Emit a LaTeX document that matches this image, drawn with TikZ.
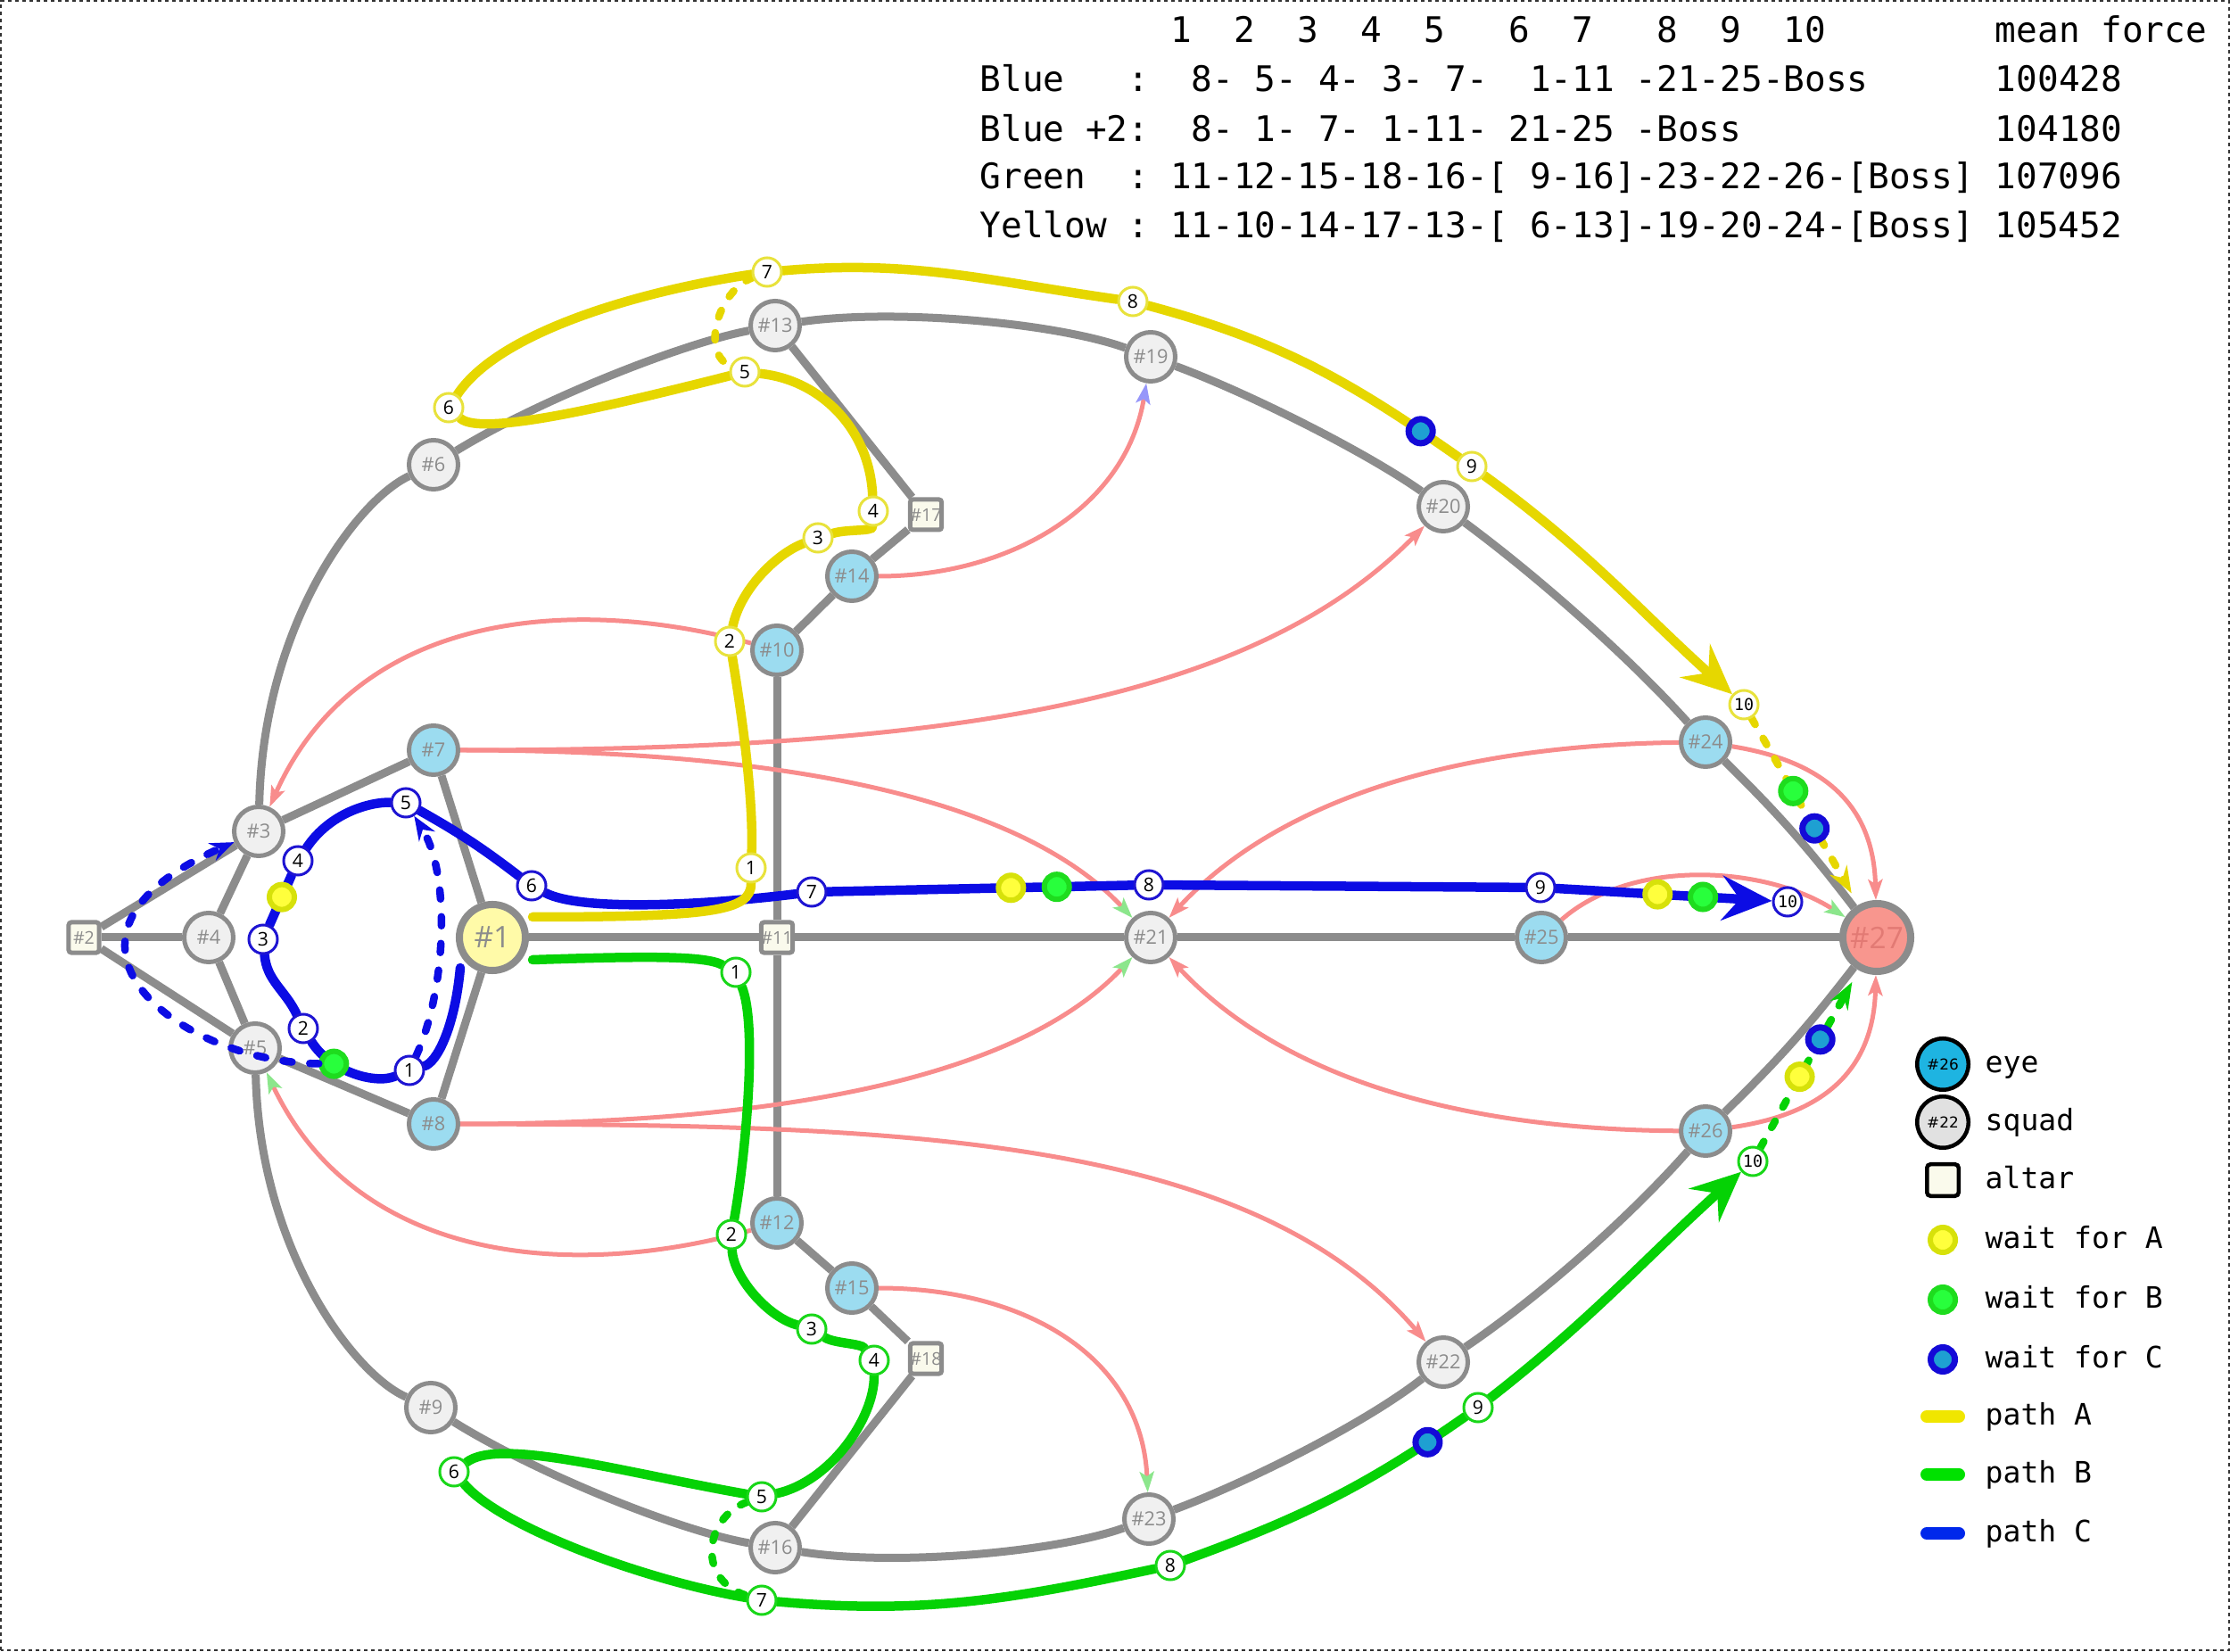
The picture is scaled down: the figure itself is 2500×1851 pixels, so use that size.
\documentclass[tikz,border=0pt]{standalone}
\usepackage{fontspec}
\setmainfont{Open Sans}
\newfontfamily\monofont{DejaVu Sans Mono}
\newfontfamily\labfont{Open Sans}
\newfontfamily\legfont{DejaVu Sans}
\usetikzlibrary{arrows.meta}
\pgfdeclarelayer{bg}
\pgfdeclarelayer{mid}
\pgfdeclarelayer{top}
\pgfsetlayers{bg,mid,main,top}

\definecolor{edgegrey}{RGB}{140,140,140}
\definecolor{squadfill}{RGB}{240,240,240}
\definecolor{eyefill}{RGB}{156,220,240}
\definecolor{bossfill}{RGB}{248,150,142}
\definecolor{bosstext}{RGB}{226,122,116}
\definecolor{startfill}{RGB}{255,250,168}
\definecolor{altarfill}{RGB}{250,250,236}
\definecolor{labgrey}{RGB}{140,140,140}
\definecolor{colA}{RGB}{230,215,0}
\definecolor{colB}{RGB}{5,210,5}
\definecolor{colC}{RGB}{12,12,228}
\definecolor{mkAcol}{RGB}{232,226,60}
\definecolor{mkBcol}{RGB}{25,215,25}
\definecolor{mkCcol}{RGB}{30,20,210}
\definecolor{pinkline}{RGB}{248,140,140}
\definecolor{greenhead}{RGB}{140,230,140}
\definecolor{lavhead}{RGB}{150,150,250}
\definecolor{waitAring}{RGB}{215,225,10}
\definecolor{waitAin}{RGB}{255,255,60}
\definecolor{waitBring}{RGB}{30,220,30}
\definecolor{waitBin}{RGB}{40,255,60}
\definecolor{waitCring}{RGB}{20,10,215}
\definecolor{waitCin}{RGB}{30,160,210}
\definecolor{legeye}{RGB}{30,180,225}
\definecolor{legsquad}{RGB}{225,225,225}
\definecolor{legA}{RGB}{240,230,0}
\definecolor{legB}{RGB}{0,225,0}
\definecolor{legC}{RGB}{0,40,235}

\tikzset{
 squad/.style={circle, draw=edgegrey, fill=squadfill, line width=0.05cm, minimum size=0.55cm, inner sep=0pt, text=labgrey, font=\labfont\fontsize{6.2}{7}\selectfont},
 eye/.style={squad, fill=eyefill},
 altar/.style={rectangle, rounded corners=0.03cm, draw=edgegrey, fill=altarfill, line width=0.05cm, minimum size=0.34cm, inner sep=0pt, text=labgrey, font=\labfont\fontsize{5.6}{6}\selectfont},
 startnode/.style={squad, fill=startfill, line width=0.08cm, minimum size=0.74cm, font=\labfont\fontsize{9.5}{10}\selectfont},
 bossnode/.style={squad, fill=bossfill, text=bosstext, line width=0.08cm, minimum size=0.76cm, font=\labfont\fontsize{9.5}{10}\selectfont},
 road/.style={draw=edgegrey, line width=0.09cm},
 hint/.style={draw=pinkline, line width=0.05cm, -{Stealth[length=0.23cm,width=0.16cm,inset=0.05cm]}},
 hintG/.style={draw=pinkline, line width=0.05cm, -{Stealth[length=0.23cm,width=0.16cm,inset=0.05cm,color=greenhead]}},
 hintL/.style={draw=pinkline, line width=0.05cm, -{Stealth[length=0.23cm,width=0.16cm,inset=0.05cm,color=lavhead]}},
 mk/.style={circle, fill=white, solid, line width=0.03cm, minimum size=0.32cm, inner sep=0pt, text=black, font=\labfont\fontsize{6}{6}\selectfont},
 markA/.style={mk, draw=mkAcol},
 markB/.style={mk, draw=mkBcol},
 markC/.style={mk, draw=mkCcol},
 tenfont/.style={font=\monofont\fontsize{5.2}{5}\selectfont},
 waitdot/.style={circle, solid, line width=0.06cm, minimum size=0.28cm, inner sep=0pt},
 waitA/.style={waitdot, draw=waitAring, fill=waitAin},
 waitB/.style={waitdot, draw=waitBring, fill=waitBin},
 waitC/.style={waitdot, draw=waitCring, fill=waitCin, line width=0.07cm, minimum size=0.27cm},
 pA/.style={draw=colA, line width=0.105cm, line cap=round},
 pB/.style={draw=colB, line width=0.105cm, line cap=round},
 pC/.style={draw=colC, line width=0.105cm, line cap=round},
 pAd/.style={pA, line width=0.085cm, dash pattern=on 0.08cm off 0.18cm},
 pBd/.style={pB, line width=0.085cm, dash pattern=on 0.08cm off 0.18cm},
 pCd/.style={pC, line width=0.085cm, dash pattern=on 0.1cm off 0.2cm},
 bigtip/.style={-{Stealth[length=0.56cm,width=0.5cm,inset=0.2cm]}},
 dtip/.style={-{Stealth[length=0.3cm,width=0.22cm,inset=0.1cm]}},
 ctip/.style={-{Stealth[length=0.27cm,width=0.21cm,inset=0.09cm]}},
 hdr/.style={anchor=base west, inner sep=0pt, font=\monofont\fontsize{11.2}{13}\selectfont},
 legtext/.style={anchor=mid west, inner sep=0pt, font=\monofont\fontsize{9.4}{11}\selectfont},
}

\begin{document}
\begin{tikzpicture}[x=0.01cm,y=0.01cm]
\useasboundingbox (0,0) rectangle (2500,1851);
\draw[black!80, line width=0.02cm, dash pattern=on 0.04cm off 0.04cm] (1,1) rectangle (2499,1850);

% ---------- header ----------
\node[hdr] (h0) at (1098,1803) {~~~~~~~~~1~~2~~3~~4~~5~~~6~~7~~~8~~9~~10~~~~~~~~mean~force};
\node[hdr] (h1) at (1098,1748) {Blue~~~:~~8-~5-~4-~3-~7-~~1-11~-21-25-Boss~~~~~~100428};
\node[hdr] (h2) at (1098,1692) {Blue~+2:~~8-~1-~7-~1-11-~21-25~-Boss~~~~~~~~~~~~104180};
\node[hdr] (h3) at (1098,1639) {Green~~:~11-12-15-18-16-[~9-16]-23-22-26-[Boss]~107096};
\node[hdr] (h4) at (1098,1584) {Yellow~:~11-10-14-17-13-[~6-13]-19-20-24-[Boss]~105452};

% ---------- map nodes ----------
\node[startnode] (n1) at (552,800) {\#1};
\node[altar] (n2) at (94,800) {\#2};
\node[squad] (n3) at (290,919) {\#3};
\node[squad] (n4) at (234,800) {\#4};
\node[squad] (n5) at (286,676) {\#5};
\node[squad] (n6) at (486,1330) {\#6};
\node[eye] (n7) at (486,1010) {\#7};
\node[eye] (n8) at (486,591) {\#8};
\node[squad] (n9) at (483,273) {\#9};
\node[eye] (n10) at (871,1122) {\#10};
\node[altar] (n11) at (871,800) {\#11};
\node[eye] (n12) at (871,480) {\#12};
\node[squad] (n13) at (869,1486) {\#13};
\node[eye] (n14) at (955,1205) {\#14};
\node[eye] (n15) at (955,407) {\#15};
\node[squad] (n16) at (869,116) {\#16};
\node[altar] (n17) at (1038,1274) {\#17};
\node[altar] (n18) at (1038,328) {\#18};
\node[squad] (n19) at (1290,1451) {\#19};
\node[squad] (n20) at (1618,1283) {\#20};
\node[squad] (n21) at (1290,800) {\#21};
\node[squad] (n22) at (1618,324) {\#22};
\node[squad] (n23) at (1288,148) {\#23};
\node[eye] (n24) at (1912,1019) {\#24};
\node[eye] (n25) at (1728,800) {\#25};
\node[eye] (n26) at (1912,583) {\#26};
\node[bossnode] (n27) at (2104,800) {\#27};

% ---------- grey roads ----------
\begin{pgfonlayer}{bg}
\draw[road] (n2) -- (n3);
\draw[road] (n2) -- (n4);
\draw[road] (n2) -- (n5);
\draw[road] (n3) -- (n4);
\draw[road] (n4) -- (n5);
\draw[road] (n3) -- (n7);
\draw[road] (n5) -- (n8);
\draw[road] (n7) -- (n1);
\draw[road] (n8) -- (n1);
\draw[road] (n1) -- (n11);
\draw[road] (n11) -- (n21);
\draw[road] (n21) -- (n25);
\draw[road] (n25) -- (n27);
\draw[road] (n10) -- (n11);
\draw[road] (n11) -- (n12);
\draw[road] (n10) -- (n14);
\draw[road] (n14) -- (n17);
\draw[road] (n17) -- (n13);
\draw[road] (n12) -- (n15);
\draw[road] (n15) -- (n18);
\draw[road] (n18) -- (n16);
\draw[road] (n3) .. controls (295,1150) and (400,1290) .. (n6);
\draw[road] (n6) .. controls (600,1400) and (760,1465) .. (n13);
\draw[road] (n13) .. controls (1000,1505) and (1180,1490) .. (n19);
\draw[road] (n19) .. controls (1400,1410) and (1530,1345) .. (n20);
\draw[road] (n20) .. controls (1730,1200) and (1830,1110) .. (n24);
\draw[road] (n24) to[bend left=4] (n27);
\draw[road] (n5) .. controls (291,450) and (397,310) .. (n9);
\draw[road] (n9) .. controls (600,200) and (760,135) .. (n16);
\draw[road] (n16) .. controls (1000,95) and (1180,110) .. (n23);
\draw[road] (n23) .. controls (1400,190) and (1530,255) .. (n22);
\draw[road] (n22) .. controls (1730,400) and (1830,490) .. (n26);
\draw[road] (n26) to[bend right=4] (n27);
\end{pgfonlayer}

% ---------- pink hints ----------
\begin{pgfonlayer}{mid}
\draw[hintL] (n14) .. controls (1130,1205) and (1262,1280) .. (n19);
\draw[hint] (n10) .. controls (640,1185) and (400,1165) .. (n3);
\draw[hint] (n7) .. controls (1050,1010) and (1400,1060) .. (n20);
\draw[hintG] (n7) .. controls (900,1010) and (1150,950) .. (n21);
\draw[hint] (n24) .. controls (1600,1015) and (1420,940) .. (n21);
\draw[hintG] (n8) .. controls (900,591) and (1150,650) .. (n21);
\draw[hint] (n26) .. controls (1600,585) and (1420,660) .. (n21);
\draw[hint] (n8) .. controls (1000,590) and (1400,580) .. (n22);
\draw[hintG] (n12) .. controls (640,415) and (400,435) .. (n5);
\draw[hintG] (n15) .. controls (1150,407) and (1280,330) .. (n23);
\draw[hint] (n24) .. controls (2030,1000) and (2100,960) .. (n27);
\draw[hintG] (n25) .. controls (1830,890) and (1980,880) .. (n27);
\draw[hint] (n26) .. controls (2030,600) and (2100,640) .. (n27);
\end{pgfonlayer}

% ---------- step markers ----------
\begin{pgfonlayer}{top}
\node[markC] (c1) at (459,651) {1};
\node[markC] (c2) at (340,698) {2};
\node[markC] (c3) at (295,798) {3};
\node[markC] (c4) at (334,886) {4};
\node[markC] (c5) at (455,951) {5};
\node[markC] (c6) at (596,858) {6};
\node[markC] (c7) at (910,851) {7};
\node[markC] (c8) at (1288,859) {8};
\node[markC] (c9) at (1727,856) {9};
\node[markC,tenfont] (c10) at (2004,840) {10};
\node[markA] (a1) at (842,878) {1};
\node[markA] (a2) at (818,1132) {2};
\node[markA] (a3) at (917,1248) {3};
\node[markA] (a4) at (979,1278) {4};
\node[markA] (a5) at (835,1434) {5};
\node[markA] (a6) at (503,1394) {6};
\node[markA] (a7) at (860,1546) {7};
\node[markA] (a8) at (1270,1513) {8};
\node[markA] (a9) at (1650,1328) {9};
\node[markA,tenfont] (a10) at (1955,1061) {10};
\node[markB] (g1) at (825,761) {1};
\node[markB] (g2) at (820,467) {2};
\node[markB] (g3) at (910,361) {3};
\node[markB] (g4) at (980,326) {4};
\node[markB] (g5) at (854,173) {5};
\node[markB] (g6) at (509,201) {6};
\node[markB] (g7) at (854,57) {7};
\node[markB] (g8) at (1312,96) {8};
\node[markB] (g9) at (1657,273) {9};
\node[markB,tenfont] (g10) at (1965,549) {10};
\end{pgfonlayer}

\coordinate (cS) at (516,766);
\coordinate (yS) at (597,823);
\coordinate (gS) at (597,775);

% ---------- path C (blue) ----------
\draw[pC] (cS) .. controls (510,700) and (490,660) .. (c1);
\draw[pC] (c1) .. controls (420,635) and (370,650) .. (c2) node[pos=0.7, waitB] (wb1) {};
\draw[pC] (c2) to[out=115,in=-85] (c3);
\draw[pC] (c3) -- node[pos=0.56, waitA] (wa1) {} (c4);
\draw[pC] (c4) .. controls (370,940) and (415,952) .. (c5);
\draw[pC] (c5) to[bend left=4] (c6);
\draw[pC] (c6) .. controls (650,830) and (780,835) .. (c7);
\draw[pC] (c7) -- node[pos=0.6, waitA] (wa2) {} node[pos=0.75, waitB] (wb2) {} (c8);
\draw[pC] (c8) -- (c9);
\draw[pC, bigtip] (c9) -- node[pos=0.47, waitA] (wa3) {} node[pos=0.68, waitB] (wb3) {} (c10);
\draw[pCd, ctip] (c1) .. controls (500,740) and (506,870) .. (c5);
\draw[pCd, ctip] (wb1) .. controls (200,660) and (20,800) .. (n3);

% ---------- path B (green) ----------
\draw[pB] (gS) .. controls (720,779) and (790,780) .. (g1);
\draw[pB] (g1) .. controls (850,700) and (835,550) .. (g2);
\draw[pB] (g2) .. controls (822,420) and (860,375) .. (g3);
\draw[pB] (g3) .. controls (935,345) and (965,345) .. (g4);
\draw[pB] (g4) .. controls (980,260) and (930,190) .. (g5);
\draw[pB] (g5) .. controls (700,200) and (560,240) .. (g6);
\draw[pB] (g6) .. controls (560,140) and (720,80) .. (g7);
\draw[pBd] (g5) .. controls (790,150) and (780,80) .. (g7);
\draw[pB] (g7) to[out=-5,in=192] (g8);
\draw[pB] (g8) to[out=20,in=-145] node[pos=0.87, waitC] (wc3) {} (g9);
\draw[pB, bigtip] (g9) to[out=38,in=-138] (g10);
\draw[pBd, dtip, shorten >=0.15cm] (g10) -- node[pos=0.40, waitA] (wa4) {} node[pos=0.61, waitC] (wc4) {} (n27);

% ---------- path A (yellow) ----------
\draw[pA] (yS) .. controls (800,823) and (842,830) .. (a1);
\draw[pA] (a1) .. controls (845,960) and (830,1060) .. (a2);
\draw[pA] (a2) .. controls (830,1190) and (870,1230) .. (a3);
\draw[pA] (a3) .. controls (950,1258) and (978,1255) .. (a4);
\draw[pA] (a4) .. controls (975,1370) and (920,1425) .. (a5);
\draw[pA] (a5) .. controls (700,1400) and (540,1360) .. (a6);
\draw[pA] (a6) .. controls (560,1480) and (720,1525) .. (a7);
\draw[pAd] (a7) .. controls (805,1525) and (785,1455) .. (a5);
\draw[pA] (a7) to[out=5,in=172] (a8);
\draw[pA] (a8) to[out=-15,in=145] node[pos=0.88, waitC] (wc1) {} (a9);
\draw[pA, bigtip] (a9) to[out=-36,in=138] (a10);
\draw[pAd, dtip, shorten >=0.15cm] (a10) -- node[pos=0.39, waitB] (wb4) {} node[pos=0.59, waitC] (wc2) {} (n27);

% ---------- legend ----------
\node[circle, draw=black, fill=legeye, line width=0.045cm, minimum size=0.575cm, inner sep=0pt, font=\legfont\fontsize{4.8}{5}\selectfont] (leye) at (2178,658) {\#26};
\node[legtext] (teye) at (2225,658) {eye};
\node[circle, draw=black, fill=legsquad, line width=0.045cm, minimum size=0.575cm, inner sep=0pt, font=\legfont\fontsize{4.8}{5}\selectfont] (lsquad) at (2178,593) {\#22};
\node[legtext] (tsquad) at (2225,593) {squad};
\node[rectangle, rounded corners=0.04cm, draw=black, fill=altarfill, line width=0.045cm, minimum size=0.355cm, inner sep=0pt] (laltar) at (2178,528) {};
\node[legtext] (taltar) at (2225,528) {altar};
\node[waitA] (lwa) at (2178,461) {};
\node[legtext] (twa) at (2225,461) {wait~for~A};
\node[waitB] (lwb) at (2178,394) {};
\node[legtext] (twb) at (2225,394) {wait~for~B};
\node[waitC] (lwc) at (2178,327) {};
\node[legtext] (twc) at (2225,327) {wait~for~C};
\coordinate (lpa1) at (2160,263); \coordinate (lpa2) at (2196,263);
\draw[legA, line width=0.14cm, line cap=round] (lpa1) -- (lpa2);
\node[legtext] (tpa) at (2225,263) {path~A};
\coordinate (lpb1) at (2160,198); \coordinate (lpb2) at (2196,198);
\draw[legB, line width=0.14cm, line cap=round] (lpb1) -- (lpb2);
\node[legtext] (tpb) at (2225,198) {path~B};
\coordinate (lpc1) at (2160,132); \coordinate (lpc2) at (2196,132);
\draw[legC, line width=0.14cm, line cap=round] (lpc1) -- (lpc2);
\node[legtext] (tpc) at (2225,132) {path~C};
\end{tikzpicture}
\end{document}
